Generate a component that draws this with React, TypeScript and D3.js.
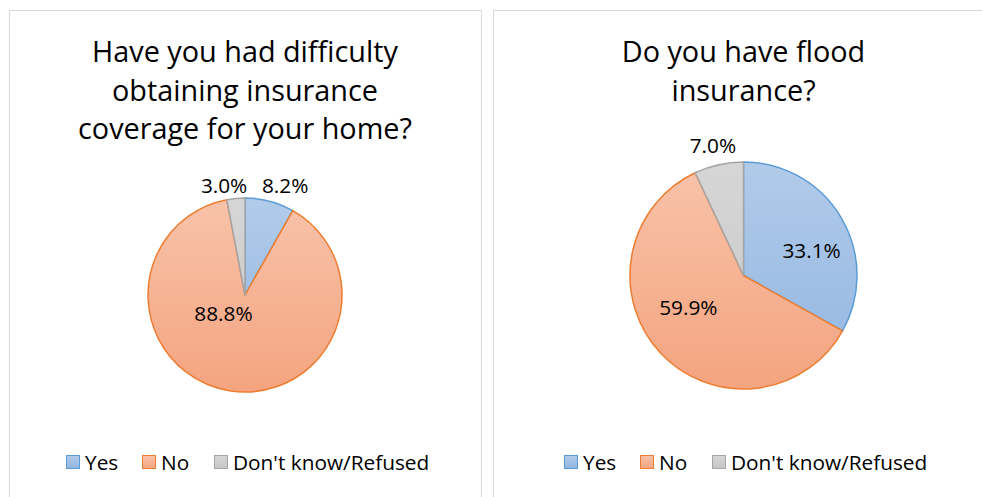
import React from "react";
import * as d3 from "d3";

const categories = ["Yes", "No", "Don't know/Refused"];
const difficultyValues = [8.2, 88.8, 3.0];
const floodValues = [33.1, 59.9, 7.0];
const difficultyTitle = ["Have you had difficulty", "obtaining insurance", "coverage for your home?"];
const floodTitle = ["Do you have flood", "insurance?"];

const fillTop = ["#b1cbea", "#f8c3aa", "#d6d6d6"];
const fillBottom = ["#91b5e0", "#f4a47f", "#c6c6c6"];
const strokes = ["#5b9bd5", "#ed7d31", "#a5a5a5"];

const FONT = "'Open Sans', sans-serif";

type LabelPlace = { angleDeg: number; rf: number };

type PanelProps = {
  id: string;
  x0: number;
  width: number;
  values: number[];
  title: string[];
  titleY: number;
  cx: number;
  cy: number;
  r: number;
  labelPlaces: LabelPlace[];
  legendX: number;
  legendOffsets: number[];
};

function Panel({ id, x0, width, values, title, titleY, cx, cy, r, labelPlaces, legendX, legendOffsets }: PanelProps) {
  const pie = d3.pie<number>().sort(null).value((d) => d).startAngle(0).endAngle(2 * Math.PI);
  const arcs = pie(values);
  const arcGen = d3.arc<d3.PieArcDatum<number>>().innerRadius(0).outerRadius(r);
  return (
    <g>
      <rect x={x0 + 0.5} y={10.5} width={width} height={500} fill="#fff" stroke="#d9d9d9" strokeWidth={1} />
      <defs>
        {categories.map((c, i) => (
          <linearGradient key={c} id={`${id}-g${i}`} gradientUnits="userSpaceOnUse" x1={0} y1={-r} x2={0} y2={r}>
            <stop offset="0" stopColor={fillTop[i]} />
            <stop offset="1" stopColor={fillBottom[i]} />
          </linearGradient>
        ))}
        {categories.map((c, i) => (
          <linearGradient key={c} id={`${id}-lg${i}`} x1="0" y1="0" x2="0" y2="1">
            <stop offset="0" stopColor={fillTop[i]} />
            <stop offset="1" stopColor={fillBottom[i]} />
          </linearGradient>
        ))}
      </defs>
      {title.map((t, i) => (
        <text key={i} x={cx} y={titleY + i * 38.5} textAnchor="middle" fontFamily={FONT} fontSize={28.8} fill="#000">
          {t}
        </text>
      ))}
      <g transform={`translate(${cx},${cy})`}>
        {arcs.map((a, i) => (
          <path key={i} d={arcGen(a) || ""} fill={`url(#${id}-g${i})`} stroke={strokes[i]} strokeWidth={1.5} strokeLinejoin="round" />
        ))}
        {arcs.map((a, i) => {
          const p = labelPlaces[i];
          const ang = (p.angleDeg * Math.PI) / 180;
          const lx = Math.sin(ang) * r * p.rf;
          const ly = -Math.cos(ang) * r * p.rf;
          return (
            <text key={i} x={lx} y={ly} dy="0.36em" textAnchor="middle" fontFamily={FONT} fontSize={20.8} fill="#000">
              {d3.format(".1f")(a.data) + "%"}
            </text>
          );
        })}
      </g>
      <g transform={`translate(${legendX},462)`}>
        {categories.map((c, i) => (
          <g key={c} transform={`translate(${legendOffsets[i]},0)`}>
            <rect x={0.5} y={-6.5} width={13} height={13} fill={`url(#${id}-lg${i})`} stroke={strokes[i]} strokeWidth={1} />
            <text x={19} y={0} dy="0.36em" fontFamily={FONT} fontSize={20.8} fill="#000">
              {c}
            </text>
          </g>
        ))}
      </g>
    </g>
  );
}

export default function App() {
  return (
    <svg width={982} height={497} style={{ position: "absolute", left: 0, top: 0, background: "#fff" }}>
      <rect width={982} height={497} fill="#fff" />
      <Panel
        id="p1"
        x0={9}
        width={472}
        values={difficultyValues}
        title={difficultyTitle}
        titleY={62}
        cx={245}
        cy={295}
        r={97}
        labelPlaces={[
          { angleDeg: 20.2, rf: 1.2 },
          { angleDeg: 230, rf: 0.29 },
          { angleDeg: -10.8, rf: 1.15 },
        ]}
        legendX={66}
        legendOffsets={[0, 76, 148]}
      />
      <Panel
        id="p2"
        x0={493}
        width={500}
        values={floodValues}
        title={floodTitle}
        titleY={62}
        cx={743.5}
        cy={275.5}
        r={113.5}
        labelPlaces={[
          { angleDeg: 69.6, rf: 0.64 },
          { angleDeg: 240.2, rf: 0.56 },
          { angleDeg: -13.2, rf: 1.18 },
        ]}
        legendX={564}
        legendOffsets={[0, 76, 148]}
      />
    </svg>
  );
}
